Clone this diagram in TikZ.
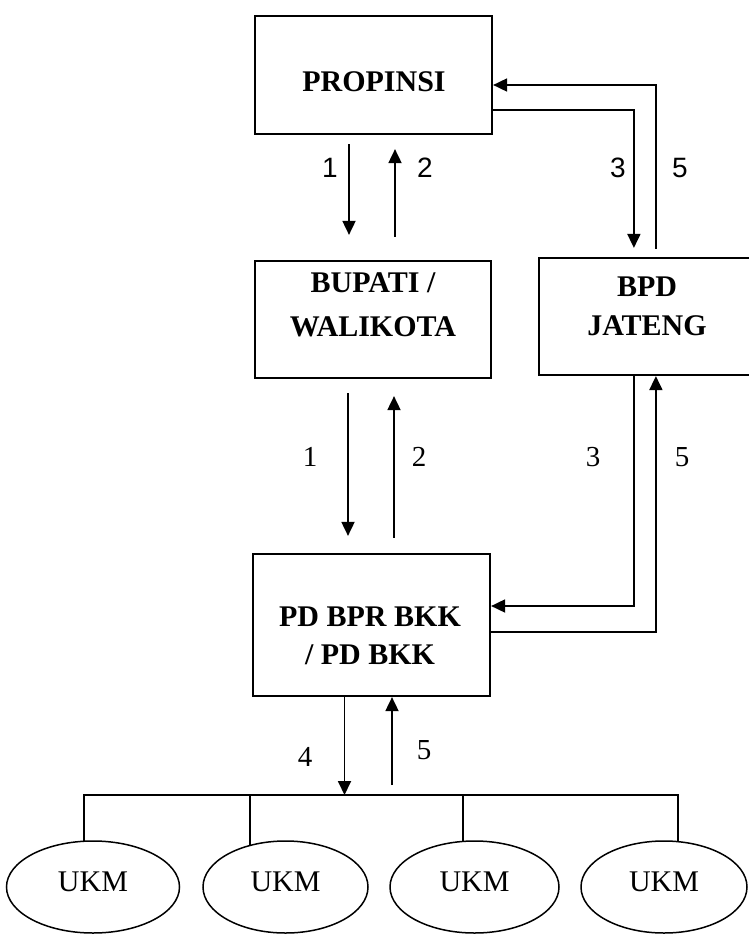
\documentclass[tikz,border=0pt]{standalone}
\usepackage{fontspec}
\setmainfont{Liberation Serif}
\newfontfamily\labsans{Liberation Sans}
\usetikzlibrary{arrows.meta,shapes.geometric}
\tikzset{
  box/.style={draw,line width=2.2pt,rectangle,inner sep=0pt},
  boxtext/.style={align=center,inner sep=0pt,font=\bfseries\fontsize{30}{42}\selectfont},
  ukm/.style={draw,line width=1.5pt,ellipse,inner sep=0pt,minimum height=92pt,text depth=10pt,font=\fontsize{30}{36}\selectfont},
  arr/.style={line width=1.8pt,-{Triangle[length=14pt,width=13pt]}},
  ln/.style={line width=1.7pt},
  numA/.style={inner sep=0pt,font=\labsans\fontsize{28}{32}\selectfont},
  numB/.style={inner sep=0pt,font=\fontsize{29}{32}\selectfont}
}
\begin{document}
\begin{tikzpicture}[x=1pt,y=-1pt]
\useasboundingbox (0,0) rectangle (749,934);
% boxes
\node[box,minimum width=237pt,minimum height=118pt] (prop) at (373.5,75) {};
\node[box,minimum width=236pt,minimum height=117pt] (bup) at (373,319.5) {};
\node[box,minimum width=221pt,minimum height=117pt] (bpd) at (649.5,316.5) {};
\node[box,minimum width=237pt,minimum height=142pt] (pd) at (371.5,625) {};
% box texts
\node[boxtext] (propT) at (374,82) {PROPINSI};
\node[boxtext,font=\bfseries\fontsize{30}{44}\selectfont] (bupT) at (373,305) {BUPATI /\\WALIKOTA};
\node[boxtext,font=\bfseries\fontsize{30}{39}\selectfont] (bpdT) at (647,306) {BPD\\JATENG};
\node[boxtext,font=\bfseries\fontsize{30}{38}\selectfont] (pdT) at (370,636) {PD BPR BKK\\/ PD BKK};
% UKM ellipses
\node[ukm,minimum width=173pt] (u1) at (93,887) {UKM};
\node[ukm,minimum width=165pt] (u2) at (285.5,887) {UKM};
\node[ukm,minimum width=169pt] (u3) at (474.5,887) {UKM};
\node[ukm,minimum width=166pt] (u4) at (664,887) {UKM};
% arrows PROPINSI <-> BUPATI
\draw[arr] ([xshift=-24.5pt,yshift=-9pt]prop.south) -- ([xshift=-24pt,yshift=25pt]bup.north);
\draw[arr] ([xshift=22pt,yshift=23pt]bup.north) -- ([xshift=21.5pt,yshift=-14pt]prop.south);
% arrows BUPATI <-> PD
\draw[arr] ([xshift=-25pt,yshift=-14pt]bup.south) -- ([xshift=-23.5pt,yshift=17pt]pd.north);
\draw[arr] ([xshift=22.5pt,yshift=15pt]pd.north) -- ([xshift=21pt,yshift=-17pt]bup.south);
% PROPINSI <-> BPD
\draw[arr] ([yshift=-35pt]prop.east) -| ([xshift=96pt,yshift=9pt]bpd.north west);
\draw[arr] ([xshift=118pt,yshift=8pt]bpd.north west) |- ([yshift=-10pt]prop.east);
% BPD <-> PD
\draw[arr] ([xshift=96pt]bpd.south west) |- ([yshift=19pt]pd.east);
\draw[arr] ([yshift=-7pt]pd.east) -| ([xshift=118pt]bpd.south west);
% bus to UKM
\coordinate (bus) at (380,795);
\coordinate (p4) at ([xshift=-27pt]pd.south);
\coordinate (p5) at ([xshift=20.5pt]pd.south);
\coordinate (b5) at (392,785);
\draw[arr] (p4) -- (p4 |- bus);
\draw[arr] (b5) -- (p5);
\draw[ln] (u1.101) -- (u1.101 |- bus) -- (u4.73 |- bus) -- (u4.73);
\draw[ln] (u2.130) -- (u2.130 |- bus);
\draw[ln] (u3.104) -- (u3.104 |- bus);
% labels
\node[numA] (l1a) at (330,168) {1};
\node[numA] (l2a) at (425,168) {2};
\node[numA] (l3a) at (618,168) {3};
\node[numA] (l5a) at (680,168) {5};
\node[numB] (l1b) at (310,457) {1};
\node[numB] (l2b) at (419,457) {2};
\node[numB] (l3b) at (593,457) {3};
\node[numB] (l5b) at (682,457) {5};
\node[numB] (l4c) at (305,757) {4};
\node[numB] (l5c) at (424,750) {5};
\end{tikzpicture}
\end{document}
